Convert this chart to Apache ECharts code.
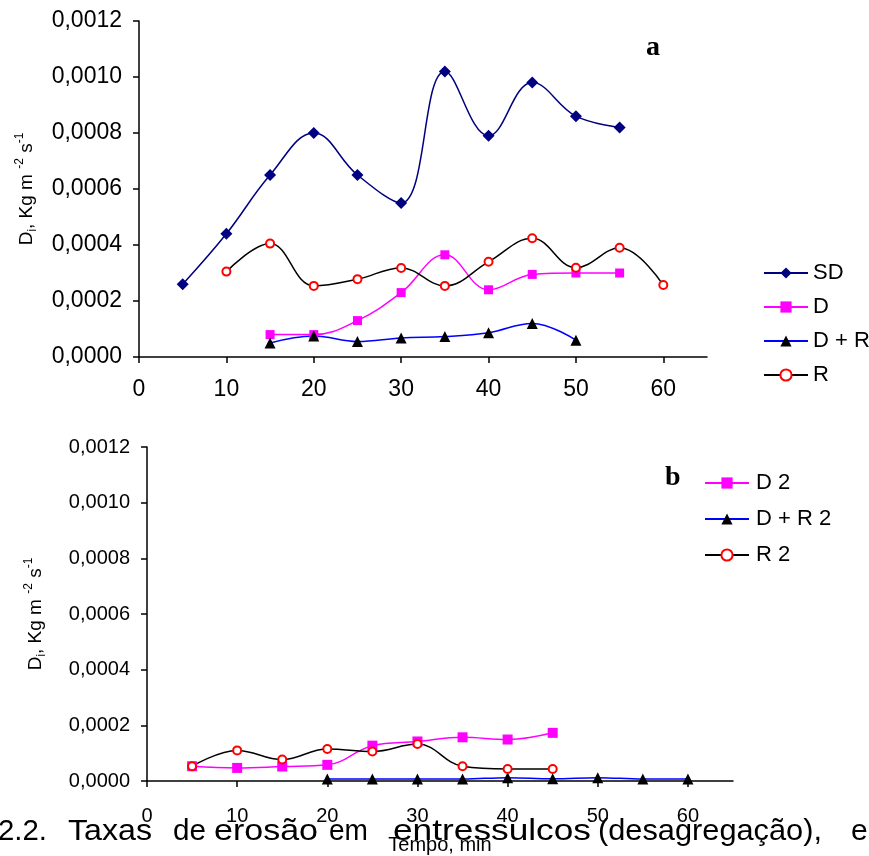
<!DOCTYPE html>
<html>
<head>
<meta charset="utf-8">
<script src="https://cdn.jsdelivr.net/npm/echarts@6/dist/echarts.min.js"></script>
<style>
  html, body { margin: 0; padding: 0; background: #fff; }
  #chart { width: 869px; height: 856px; }
</style>
</head>
<body>
<div id="chart"></div>
<script>
// Panel a: interrill erosion rates (Di) over time
const tempoSD = [5, 10, 15, 20, 25, 30, 35, 40, 45, 50, 55];
const valSD   = [0.00026, 0.00044, 0.00065, 0.0008, 0.00065, 0.00055, 0.00102, 0.00079, 0.00098, 0.00086, 0.00082];
const tempoD  = [15, 20, 25, 30, 35, 40, 45, 50, 55];
const valD    = [0.00008, 0.00008, 0.00013, 0.00023, 0.000365, 0.00024, 0.000295, 0.0003, 0.0003];
const tempoDR = [15, 20, 25, 30, 35, 40, 45, 50];
const valDR   = [0.00005, 0.000075, 0.000055, 0.000068, 0.000073, 0.000087, 0.00012, 0.00006];
const tempoR  = [10, 15, 20, 25, 30, 35, 40, 45, 50, 55, 60];
const valR    = [0.000305, 0.000405, 0.000254, 0.000278, 0.000318, 0.000254, 0.00034, 0.000424, 0.000319, 0.00039, 0.000257];

// Panel b: second set of treatments
const tempoD2  = [5, 10, 15, 20, 25, 30, 35, 40, 45];
const valD2    = [0.000053, 0.000047, 0.000052, 0.000058, 0.000127, 0.000142, 0.000157, 0.000149, 0.000173];
const tempoDR2 = [20, 25, 30, 35, 40, 45, 50, 55, 60];
const valDR2   = [0.000007, 0.000007, 0.000007, 0.000007, 0.000012, 0.000008, 0.000012, 0.000007, 0.000007];
const tempoR2  = [5, 10, 15, 20, 25, 30, 35, 40, 45];
const valR2    = [0.000053, 0.00011, 0.000077, 0.000115, 0.000106, 0.000133, 0.000053, 0.000043, 0.000043];

// Axis ticks
const xTicks = [0, 10, 20, 30, 40, 50, 60];
const yMax = 0.0012;
const yStep = 0.0002;

const legendA = ['SD', 'D', 'D + R', 'R'];
const legendB = ['D 2', 'D + R 2', 'R 2'];

// Caption line under the panels
const captionWords = ['2.2.', 'Taxas', 'de', 'erosão', 'em', 'entressulcos', '(desagregação),', 'e'];
// left/right extents of each justified word
const captionLeft  = [-2, 68, 173, 214, 329, 393, 598, 851];
const captionRight = [47, 152, 206, 318, 368, 591, 822, null];

const FONT = "'Liberation Sans', Arial, sans-serif";
const CAPTION_FONT = "30px 'Liberation Sans', Arial, sans-serif";
const pairs = (xs, ys) => xs.map((x, i) => [x, ys[i]]);

const measureCtx = document.createElement('canvas').getContext('2d');
measureCtx.font = CAPTION_FONT;

function yName(size) {
  return {
    name: '{n|D}{s|i}{n|, Kg m }{p|-2}{n| s}{p|-1}',
    nameTextStyle: {
      rich: {
        n: { fontSize: size, color: '#000', fontFamily: FONT, lineHeight: size + 6 },
        s: { fontSize: Math.round(size * 0.62), color: '#000', fontFamily: FONT, verticalAlign: 'bottom' },
        p: { fontSize: Math.round(size * 0.62), color: '#000', fontFamily: FONT, verticalAlign: 'top' }
      }
    }
  };
}

function xAxisCfg(gridIndex, fontSize, margin, extra) {
  return Object.assign({
    gridIndex: gridIndex,
    type: 'value',
    min: 0, max: 65,
    axisLine: { show: true, onZero: false, lineStyle: { color: '#000', width: 1.5 } },
    axisTick: { show: true, customValues: xTicks, length: 6, lineStyle: { color: '#000', width: 1.5 } },
    axisLabel: { customValues: xTicks, fontSize: fontSize, color: '#000', fontFamily: FONT, margin: margin },
    splitLine: { show: false }
  }, extra || {});
}

function yAxisCfg(gridIndex, fontSize, nameSize, gap) {
  return Object.assign({
    gridIndex: gridIndex,
    type: 'value',
    min: 0, max: yMax, interval: yStep,
    nameLocation: 'middle',
    nameRotate: 90,
    nameGap: gap,
    axisLine: { show: true, lineStyle: { color: '#000', width: 1.5 } },
    axisTick: { show: true, length: 6, lineStyle: { color: '#000', width: 1.5 } },
    axisLabel: {
      fontSize: fontSize, color: '#000', fontFamily: FONT, margin: 17,
      formatter: v => v.toFixed(4).replace('.', ',')
    },
    splitLine: { show: false }
  }, yName(nameSize));
}

const SMOOTH = 0.4;
function series(name, idx, data, lineColor, symbol, symSize, markerStyle) {
  return {
    name: name, type: 'line', xAxisIndex: idx, yAxisIndex: idx,
    data: data, smooth: SMOOTH, symbol: symbol, symbolSize: symSize,
    showSymbol: true,
    lineStyle: { color: lineColor, width: 1.5 },
    itemStyle: markerStyle,
    emphasis: { disabled: true }
  };
}

const captionGraphics = captionWords.map((w, i) => {
  const natural = measureCtx.measureText(w).width;
  const sx = captionRight[i] == null ? 1 : (captionRight[i] - captionLeft[i]) / natural;
  return {
    type: 'text', x: captionLeft[i], y: 832, scaleX: sx,
    style: { text: w, font: CAPTION_FONT, fill: '#000', verticalAlign: 'middle' }
  };
});

const option = {
  animation: false,
  backgroundColor: '#fff',
  textStyle: { fontFamily: FONT },
  grid: [
    { left: 139, top: 21, width: 568, height: 336 },
    { left: 147, top: 447, width: 586, height: 337 }
  ],
  xAxis: [
    xAxisCfg(0, 23, 21),
    xAxisCfg(1, 20, 25, {
      name: 'Tempo, min', nameLocation: 'middle', nameGap: 54,
      nameTextStyle: { fontSize: 20, color: '#000', fontFamily: FONT }
    })
  ],
  yAxis: [
    yAxisCfg(0, 23, 19, 100),
    yAxisCfg(1, 20, 19, 99)
  ],
  legend: [
    {
      data: legendA, orient: 'vertical', left: 758, top: 257,
      itemWidth: 44, itemHeight: 14, itemGap: 12,
      textStyle: { fontSize: 22, color: '#000', fontFamily: FONT },
      selectedMode: false
    },
    {
      data: legendB, orient: 'vertical', left: 699, top: 467,
      itemWidth: 44, itemHeight: 14, itemGap: 14,
      textStyle: { fontSize: 22, color: '#000', fontFamily: FONT, padding: [0, 0, 0, 2] },
      selectedMode: false
    }
  ],
  series: [
    series('SD', 0, pairs(tempoSD, valSD), '#000080', 'diamond', 12, { color: '#000080' }),
    series('D', 0, pairs(tempoD, valD), '#FF00FF', 'rect', 9, { color: '#FF00FF' }),
    series('D + R', 0, pairs(tempoDR, valDR), '#0000FF', 'triangle', 11, { color: '#000' }),
    series('R', 0, pairs(tempoR, valR), '#000', 'emptyCircle', 8, { color: '#FF0000', borderColor: '#FF0000', borderWidth: 1.5 }),
    series('D 2', 1, pairs(tempoD2, valD2), '#FF00FF', 'rect', 10, { color: '#FF00FF' }),
    series('D + R 2', 1, pairs(tempoDR2, valDR2), '#0000FF', 'triangle', 11, { color: '#000' }),
    series('R 2', 1, pairs(tempoR2, valR2), '#000', 'emptyCircle', 8, { color: '#FF0000', borderColor: '#FF0000', borderWidth: 1.5 })
  ],
  graphic: [
    { type: 'text', left: 646, top: 34, style: { text: 'a', font: "bold 28px 'Liberation Serif', 'Times New Roman', serif", fill: '#000' } },
    { type: 'text', left: 665, top: 464, style: { text: 'b', font: "bold 28px 'Liberation Serif', 'Times New Roman', serif", fill: '#000' } }
  ].concat(captionGraphics)
};

const chart = echarts.init(document.getElementById('chart'), null, { renderer: 'canvas' });
chart.setOption(option);
</script>
</body>
</html>
